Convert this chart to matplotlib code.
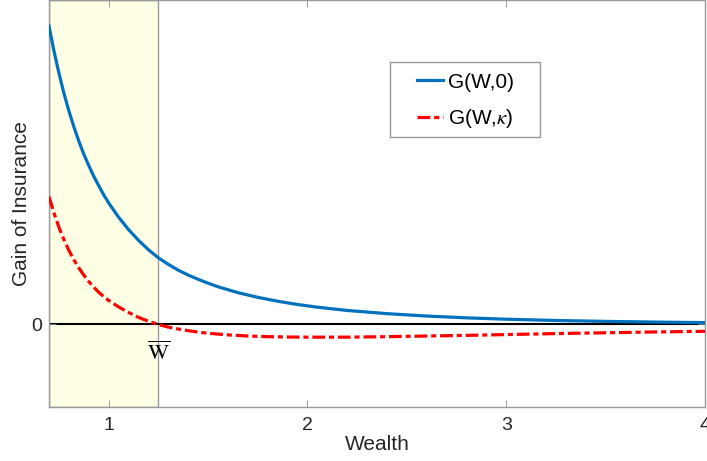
import matplotlib
matplotlib.use("Agg")
import matplotlib.pyplot as plt
from matplotlib.patches import Rectangle

plt.rcParams['font.family'] = ['Liberation Sans', 'DejaVu Sans']
plt.rcParams['mathtext.fontset'] = 'stix'

# Data
x_blue = [0.700, 0.725, 0.750, 0.775, 0.800, 0.825, 0.850, 0.875, 0.900, 0.925, 0.950, 0.975,
          1.00, 1.05, 1.10, 1.15, 1.20, 1.25, 1.30, 1.35, 1.40, 1.45, 1.50, 1.55,
          1.65, 1.75, 1.85, 1.95, 2.05, 2.20, 2.40, 2.60, 2.80, 3.00, 3.25, 3.50, 3.75, 4.00]
g_blue = [0.918, 0.841, 0.773, 0.711, 0.657, 0.608, 0.564, 0.524, 0.489, 0.456, 0.427, 0.399,
          0.374, 0.330, 0.292, 0.259, 0.230, 0.205, 0.185, 0.167, 0.152, 0.139, 0.127, 0.116,
          0.098, 0.0835, 0.0715, 0.0615, 0.0532, 0.0431, 0.0333, 0.0259, 0.0204, 0.0162,
          0.0123, 0.0095, 0.0074, 0.0057]

x_red = [0.700, 0.725, 0.750, 0.775, 0.800, 0.825, 0.850, 0.875, 0.900, 0.925, 0.950, 0.975,
         1.00, 1.05, 1.10, 1.15, 1.20, 1.25, 1.30, 1.35, 1.40, 1.45, 1.50, 1.60,
         1.70, 1.80, 1.90, 2.00, 2.20, 2.40, 2.60, 2.80, 3.00, 3.25, 3.50, 3.75, 4.00]
g_red = [0.393, 0.343, 0.299, 0.261, 0.228, 0.199, 0.174, 0.152, 0.132, 0.115, 0.099, 0.086,
         0.074, 0.054, 0.037, 0.022, 0.010, 0.000, -0.008, -0.014, -0.019, -0.0235, -0.027, -0.032,
         -0.0355, -0.0375, -0.0385, -0.039, -0.039, -0.0375, -0.0355, -0.0335, -0.031, -0.028,
         -0.0255, -0.023, -0.021]

x_ticks = [1, 2, 3, 4]
x_range = [0.7, 4.0]
w_bar = 1.25
labels = ['G(W,0)', r'G(W,$\kappa$)']

fig = plt.figure(figsize=(7.07, 4.61), dpi=100)
ax = fig.add_axes([0.0693, 0.117, 0.928, 0.883])

ax.axvspan(x_range[0], w_bar, facecolor='#ffffe6', edgecolor='#999999', linewidth=1.0, zorder=0)
ax.axhline(0, color='black', linewidth=1.5, zorder=1)

ax.plot(x_blue, g_blue, color='#0072BD', linewidth=2.3, label=labels[0], zorder=3)
ax.plot(x_red, g_red, color='#ff0000', linewidth=2.3, dashes=(4, 1.2, 1.6, 1.2),
        label=labels[1], zorder=3)

ax.set_xlim(*x_range)
ax.set_ylim(-0.254, 0.998)
ax.set_xticks(x_ticks)
ax.set_xticklabels([str(t) for t in x_ticks])
ax.set_yticks([0])
ax.set_yticklabels(['0'])
ax.tick_params(direction='in', length=5, width=0.6, color='#888888', labelsize=14,
               labelcolor='#262626', top=True, right=True, pad=5)
ax.tick_params(axis='x', pad=7)
for s in ax.spines.values():
    s.set_color('#999999')
    s.set_linewidth(1.0)

ax.set_xlabel('Wealth', fontsize=15, color='#262626')
ax.set_ylabel('Gain of Insurance', fontsize=15, color='#262626')
ax.xaxis.set_label_coords(0.5, -0.068)
ax.yaxis.set_label_coords(-0.027, 0.5)

ax.text(w_bar, -0.088, r'$\overline{\mathrm{W}}$', ha='center', va='center', fontsize=16,
        color='black', zorder=4)

# legend box (frame drawn separately to match MATLAB-style padding)
ax.add_patch(Rectangle((0.5198, 0.6634), 0.2287, 0.1843, transform=ax.transAxes,
                       facecolor='white', edgecolor='#999999', linewidth=1.0, zorder=5))
leg = ax.legend(loc='center left', bbox_to_anchor=(0.561, 0.7506), borderaxespad=0,
                frameon=False, fontsize=15, borderpad=0,
                handlelength=1.25, handletextpad=0.25, labelspacing=0.75)
leg.set_zorder(6)

fig.savefig('out.png', dpi=100)
